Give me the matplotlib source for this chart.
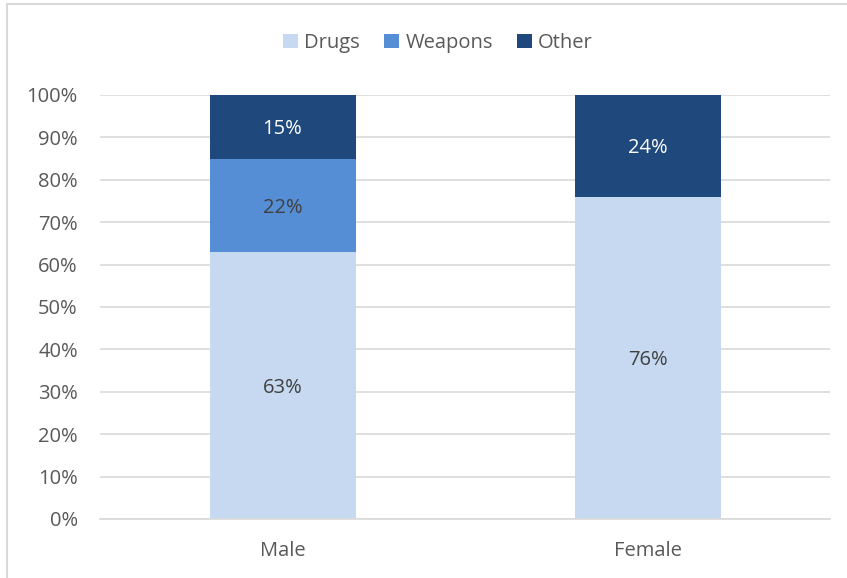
import matplotlib.pyplot as plt
from matplotlib.patches import Rectangle
from matplotlib.ticker import PercentFormatter

genders = ["Male", "Female"]
drugs = [63, 76]
weapons = [22, 0]
other = [15, 24]

series = [
    ("Drugs", drugs, "#C6D9F0", "#404040"),
    ("Weapons", weapons, "#558ED5", "#404040"),
    ("Other", other, "#1F497D", "white"),
]

plt.rcParams["font.family"] = ["Open Sans", "DejaVu Sans"]

fig = plt.figure(figsize=(8.47, 5.78), dpi=100)
ax = fig.add_axes([100 / 847, 59 / 578, 730 / 847, 424 / 578])

# chart frame, runs off the right and bottom edges
fig.patches.append(Rectangle((6.5 / 847, -0.1), 1.2, 1 - 4.5 / 578 + 0.1,
                             transform=fig.transFigure, fill=False,
                             edgecolor="#D9D9D9", linewidth=1.5))

x = range(len(genders))
bottom = [0, 0]
for name, vals, color, txt in series:
    bars = ax.bar(x, vals, width=0.4, bottom=bottom, color=color, label=name)
    for b, v, base in zip(bars, vals, bottom):
        if v > 0:
            ax.text(b.get_x() + b.get_width() / 2, base + v / 2, f"{v}%",
                    ha="center", va="center_baseline", fontsize=14.5,
                    color=txt)
    bottom = [a + b for a, b in zip(bottom, vals)]

ax.set_xlim(-0.5, 1.5)
ax.set_ylim(0, 100)
ax.set_yticks(range(0, 101, 10))
ax.yaxis.set_major_formatter(PercentFormatter(decimals=0))
ax.set_xticks(list(x))
ax.set_xticklabels(genders)
ax.grid(axis="y", color="#D9D9D9", linewidth=1.2)
ax.set_axisbelow(True)
for s in ["top", "right", "left"]:
    ax.spines[s].set_visible(False)
ax.spines["bottom"].set_color("#D9D9D9")
ax.spines["bottom"].set_linewidth(1.2)
ax.tick_params(length=0, labelsize=14.5, labelcolor="#595959")
ax.tick_params(axis="x", pad=16)
ax.tick_params(axis="y", pad=16)

ax.legend(loc="center", bbox_to_anchor=(438 / 847, 1 - 43 / 578),
          bbox_transform=fig.transFigure, ncol=3, frameon=False,
          fontsize=14.5, labelcolor="#595959", handlelength=0.75,
          handleheight=0.75, handletextpad=0.3, columnspacing=1.2)

fig.savefig("out.png", dpi=100)
